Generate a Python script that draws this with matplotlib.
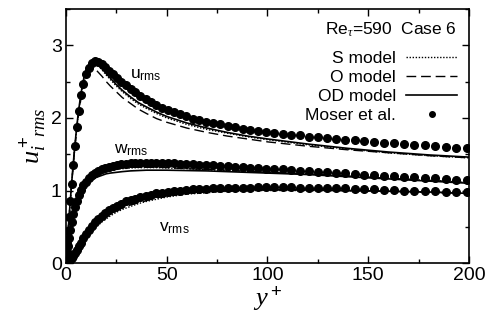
import matplotlib
matplotlib.use("Agg")
import matplotlib.pyplot as plt
from matplotlib.ticker import MultipleLocator

plt.rcParams['font.family'] = ['Liberation Sans', 'DejaVu Sans']
plt.rcParams['mathtext.fontset'] = 'custom'
plt.rcParams['mathtext.rm'] = 'Liberation Sans'
plt.rcParams['mathtext.it'] = 'Liberation Serif:italic'
plt.rcParams['mathtext.bf'] = 'Liberation Sans:bold'

# DNS (Moser et al.) -- y+ on the wall-normal grid
y_dns = [0, 0.04, 0.18, 0.40, 0.71, 1.11, 1.60, 2.18, 2.84, 3.60, 4.44, 5.37,
         6.39, 7.49, 8.69, 9.97, 11.34, 12.79, 14.34, 15.97, 17.68, 19.48,
         21.37, 23.35, 25.40, 27.55, 29.78, 32.09, 34.49, 36.97, 39.53, 42.18,
         44.92, 47.72, 50.63, 53.59, 56.67, 59.78, 63.0, 66.29, 69.71, 73.12,
         76.7, 80.26, 83.9, 87.7, 91.5, 95.45, 99.4, 103.49, 107.6, 111.83,
         116.1, 120.46, 124.9, 129.37, 133.9, 138.55, 143.3, 148.01, 152.8,
         157.74, 162.7, 167.72, 172.8, 177.96, 183.17, 188.45, 193.78, 199.17]

u_dns = [0, 0.016, 0.07, 0.16, 0.28, 0.44, 0.63, 0.85, 1.09, 1.35, 1.61, 1.87,
         2.10, 2.31, 2.47, 2.60, 2.69, 2.75, 2.78, 2.77, 2.74, 2.70,
         2.65, 2.60, 2.55, 2.50, 2.45, 2.40, 2.35, 2.30, 2.26, 2.22,
         2.18, 2.14, 2.11, 2.08, 2.05, 2.02, 1.99, 1.97, 1.95, 1.93,
         1.91, 1.89, 1.87, 1.85, 1.84, 1.82, 1.81, 1.79, 1.78, 1.77,
         1.76, 1.74, 1.73, 1.72, 1.71, 1.70, 1.69, 1.68, 1.67,
         1.66, 1.65, 1.64, 1.63, 1.62, 1.61, 1.60, 1.59, 1.58]

w_dns = [0, 0.01, 0.04, 0.09, 0.16, 0.24, 0.34, 0.45, 0.56, 0.67, 0.77, 0.86,
         0.94, 1.01, 1.07, 1.12, 1.17, 1.21, 1.24, 1.27, 1.29, 1.31,
         1.33, 1.34, 1.35, 1.36, 1.37, 1.375, 1.38, 1.385, 1.385, 1.385,
         1.385, 1.38, 1.38, 1.375, 1.37, 1.365, 1.36, 1.355, 1.35, 1.345,
         1.34, 1.335, 1.33, 1.32, 1.315, 1.31, 1.30, 1.295, 1.29, 1.28,
         1.27, 1.265, 1.255, 1.25, 1.24, 1.235, 1.23, 1.22, 1.215,
         1.205, 1.20, 1.19, 1.185, 1.175, 1.17, 1.16, 1.15, 1.14]

v_dns = [0, 0.0, 0.0, 0.002, 0.006, 0.013, 0.026, 0.045, 0.07, 0.10, 0.14, 0.18,
         0.23, 0.28, 0.34, 0.40, 0.46, 0.51, 0.56, 0.61, 0.65, 0.69,
         0.73, 0.76, 0.79, 0.82, 0.85, 0.87, 0.89, 0.91, 0.93, 0.945,
         0.96, 0.97, 0.98, 0.99, 1.0, 1.01, 1.015, 1.02, 1.025, 1.03,
         1.035, 1.035, 1.04, 1.04, 1.04, 1.045, 1.045, 1.045, 1.045, 1.045,
         1.04, 1.04, 1.035, 1.035, 1.03, 1.03, 1.025, 1.02, 1.015,
         1.01, 1.005, 1.0, 0.995, 0.99, 0.99, 0.985, 0.98, 0.975]

# LES models
y_les = [0, 1, 2, 3, 4, 5, 6, 7, 8, 9, 10, 11, 12, 13, 14, 15, 16, 18, 20, 22,
         25, 28, 32, 36, 40, 45, 50, 60, 70, 80, 90, 100, 120, 140, 160, 180, 200]

u_od = [0, 0.40, 0.79, 1.15, 1.48, 1.77, 2.03, 2.24, 2.42, 2.56, 2.66, 2.72, 2.76,
        2.78, 2.78, 2.76, 2.74, 2.68, 2.61, 2.55, 2.46, 2.38, 2.29, 2.21, 2.15,
        2.08, 2.02, 1.93, 1.86, 1.80, 1.75, 1.71, 1.64, 1.58, 1.53, 1.49, 1.46]
u_o = [0, 0.40, 0.79, 1.14, 1.46, 1.74, 1.98, 2.18, 2.35, 2.48, 2.57, 2.63, 2.67,
       2.68, 2.68, 2.66, 2.63, 2.57, 2.50, 2.44, 2.36, 2.28, 2.20, 2.12, 2.06,
       1.99, 1.94, 1.86, 1.80, 1.75, 1.71, 1.67, 1.61, 1.56, 1.52, 1.48, 1.45]
u_s = [0, 0.40, 0.79, 1.15, 1.47, 1.76, 2.01, 2.22, 2.40, 2.54, 2.64, 2.70, 2.74,
       2.76, 2.76, 2.74, 2.72, 2.66, 2.59, 2.53, 2.44, 2.36, 2.27, 2.19, 2.13,
       2.06, 2.00, 1.91, 1.84, 1.79, 1.74, 1.70, 1.63, 1.57, 1.52, 1.48, 1.45]

w_od = [0, 0.22, 0.42, 0.58, 0.71, 0.81, 0.89, 0.95, 1.00, 1.04, 1.07, 1.10, 1.12,
        1.14, 1.16, 1.18, 1.19, 1.21, 1.23, 1.24, 1.25, 1.26, 1.27, 1.275, 1.28,
        1.28, 1.28, 1.275, 1.27, 1.26, 1.25, 1.24, 1.22, 1.19, 1.16, 1.13, 1.10]
w_o = [0, 0.22, 0.42, 0.58, 0.70, 0.80, 0.88, 0.95, 1.00, 1.05, 1.09, 1.12, 1.15,
       1.17, 1.19, 1.21, 1.22, 1.25, 1.27, 1.28, 1.30, 1.31, 1.32, 1.32, 1.32,
       1.32, 1.315, 1.30, 1.29, 1.28, 1.265, 1.25, 1.23, 1.20, 1.17, 1.14, 1.11]
w_s = [0, 0.21, 0.40, 0.56, 0.68, 0.78, 0.86, 0.93, 0.98, 1.03, 1.07, 1.10, 1.13,
       1.15, 1.17, 1.19, 1.21, 1.24, 1.26, 1.27, 1.29, 1.30, 1.31, 1.315, 1.315,
       1.315, 1.31, 1.30, 1.285, 1.275, 1.26, 1.25, 1.23, 1.20, 1.17, 1.14, 1.11]

v_od = [0, 0.01, 0.04, 0.08, 0.12, 0.16, 0.20, 0.25, 0.29, 0.34, 0.38, 0.42, 0.46,
        0.49, 0.52, 0.55, 0.58, 0.63, 0.67, 0.70, 0.75, 0.79, 0.83, 0.86, 0.89,
        0.92, 0.94, 0.97, 0.99, 1.0, 1.01, 1.01, 1.01, 1.0, 0.99, 0.98, 0.96]
v_o = [0, 0.01, 0.03, 0.07, 0.11, 0.15, 0.19, 0.23, 0.27, 0.31, 0.35, 0.39, 0.43,
       0.46, 0.49, 0.52, 0.55, 0.60, 0.64, 0.67, 0.72, 0.76, 0.80, 0.83, 0.86,
       0.90, 0.92, 0.96, 0.98, 0.99, 1.0, 1.01, 1.01, 1.0, 0.99, 0.98, 0.96]
v_s = [0, 0.01, 0.03, 0.06, 0.10, 0.14, 0.18, 0.22, 0.26, 0.30, 0.33, 0.37, 0.40,
       0.43, 0.46, 0.49, 0.52, 0.57, 0.61, 0.65, 0.70, 0.74, 0.78, 0.82, 0.85,
       0.88, 0.91, 0.95, 0.97, 0.99, 1.0, 1.0, 1.0, 0.995, 0.99, 0.975, 0.96]

fig = plt.figure(figsize=(4.88, 3.31), dpi=100)
ax = fig.add_axes([0.135, 0.205, 0.826, 0.768])

dot = dict(ls='none', marker='o', ms=5.5, color='black')
s_kw = dict(color='black', lw=1.0, ls=(0, (1, 1.2)))
o_kw = dict(color='black', lw=1.0, ls=(0, (7, 3.5)))
od_kw = dict(color='black', lw=1.2, ls='-')

for curve in [u_s, w_s, v_s]:
    ax.plot(y_les, curve, **s_kw)
for curve in [u_o, w_o, v_o]:
    ax.plot(y_les, curve, **o_kw)
for curve in [u_od, w_od, v_od]:
    ax.plot(y_les, curve, **od_kw)
for curve in [u_dns, w_dns, v_dns]:
    ax.plot(y_dns, curve, **dot)

# legend handles
h_s, = ax.plot([], [], **s_kw)
h_o, = ax.plot([], [], **o_kw)
h_od, = ax.plot([], [], **od_kw)
h_dns, = ax.plot([], [], ls='none', marker='o', ms=4, color='black')
leg = ax.legend([h_s, h_o, h_od, h_dns],
                ['S model', 'O model', 'OD model', 'Moser et al.'],
                loc='upper right', frameon=False, markerfirst=False,
                fontsize=12.5, handlelength=2.9, handletextpad=0.6,
                labelspacing=0.22, borderaxespad=0.3,
                title=r'Re$_\tau$=590  Case 6', title_fontsize=12.5,
                alignment='right')
leg._legend_box.sep = 8

ax.text(32, 2.58, r'u$_{\rm rms}$', fontsize=12.5, ha='left', va='center')
ax.text(24, 1.55, r'w$_{\rm rms}$', fontsize=12.5, ha='left', va='center')
ax.text(46, 0.48, r'v$_{\rm rms}$', fontsize=12.5, ha='left', va='center')

ax.set_xlim(0, 200)
ax.set_ylim(0, 3.5)
ax.set_xticks([0, 50, 100, 150, 200])
ax.set_yticks([0, 1, 2, 3])
ax.xaxis.set_minor_locator(MultipleLocator(25))
ax.yaxis.set_minor_locator(MultipleLocator(0.5))
ax.tick_params(which='both', direction='in', top=True, right=True,
               labelsize=14, width=1.0)
ax.tick_params(which='major', length=5, pad=3)
ax.tick_params(which='minor', length=3)
for sp in ax.spines.values():
    sp.set_linewidth(1.2)

ax.set_xlabel(r'$y^+$', fontsize=19, labelpad=0)
ax.set_ylabel(r'$u^+_{i\ \ rms}$', fontsize=19, labelpad=2)

fig.savefig('out.png', dpi=100)
